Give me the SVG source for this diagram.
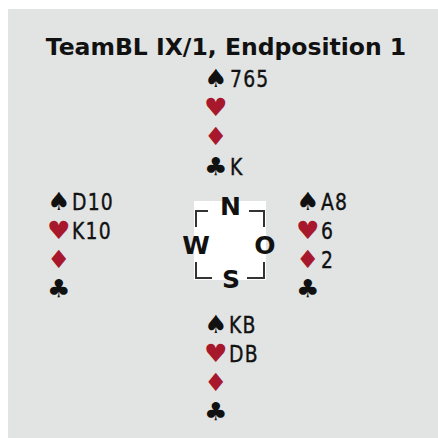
<svg xmlns="http://www.w3.org/2000/svg" width="438" height="438" viewBox="0 0 438 438">
  <style>
    .title { font-family: "DejaVu Sans", "Liberation Sans", sans-serif; font-weight: bold; font-size: 23.5px; fill: #111; }
    .card { font-family: "DejaVu Sans", sans-serif; font-size: 23.5px; fill: #111; stroke: #111; stroke-width: 0.4; letter-spacing: 1.5px; }
    .suit { font-family: "DejaVu Sans", sans-serif; font-size: 25px; }
    .blk { fill: #111; }
    .red { fill: #a8182c; }
    .dir { font-family: "DejaVu Sans", "Liberation Sans", sans-serif; font-weight: bold; font-size: 25px; fill: #111; text-anchor: middle; }
    .bracket { fill: none; stroke: #333; stroke-width: 2; }
  </style>

  <!-- canvas -->
  <rect x="0" y="0" width="438" height="438" fill="#ffffff"/>
  <rect x="8" y="9" width="430" height="429" fill="#e1e4e3"/>

  <text class="title" x="226" y="55" text-anchor="middle">TeamBL IX/1, Endposition 1</text>

  <!-- North hand -->
  <g id="north">
    <text class="suit blk" transform="translate(204,87) scale(1.05,1)">♠</text><text class="card" transform="translate(230,87) scale(0.8,1)">765</text>
    <text class="suit red" transform="translate(204,116) scale(1.05,1)">♥</text>
    <text class="suit red" transform="translate(204,145) scale(1.05,1)">♦</text>
    <text class="suit blk" transform="translate(204,175) scale(1.05,1)">♣</text><text class="card" transform="translate(230,175) scale(0.8,1)">K</text>
  </g>

  <!-- West hand -->
  <g id="west">
    <text class="suit blk" transform="translate(47,210) scale(1.05,1)">♠</text><text class="card" transform="translate(72,210) scale(0.8,1)">D10</text>
    <text class="suit red" transform="translate(47,239) scale(1.05,1)">♥</text><text class="card" transform="translate(72,239) scale(0.8,1)">K10</text>
    <text class="suit red" transform="translate(47,268) scale(1.05,1)">♦</text>
    <text class="suit blk" transform="translate(47,297) scale(1.05,1)">♣</text>
  </g>

  <!-- East hand -->
  <g id="east">
    <text class="suit blk" transform="translate(296,210) scale(1.05,1)">♠</text><text class="card" transform="translate(321,210) scale(0.8,1)">A8</text>
    <text class="suit red" transform="translate(296,239) scale(1.05,1)">♥</text><text class="card" transform="translate(321,239) scale(0.8,1)">6</text>
    <text class="suit red" transform="translate(296,268) scale(1.05,1)">♦</text><text class="card" transform="translate(321,268) scale(0.8,1)">2</text>
    <text class="suit blk" transform="translate(296,297) scale(1.05,1)">♣</text>
  </g>

  <!-- South hand -->
  <g id="south">
    <text class="suit blk" transform="translate(204,333) scale(1.05,1)">♠</text><text class="card" transform="translate(229,333) scale(0.8,1)">KB</text>
    <text class="suit red" transform="translate(204,362) scale(1.05,1)">♥</text><text class="card" transform="translate(229,362) scale(0.8,1)">DB</text>
    <text class="suit red" transform="translate(204,391) scale(1.05,1)">♦</text>
    <text class="suit blk" transform="translate(204,420) scale(1.05,1)">♣</text>
  </g>

  <!-- compass table -->
  <g id="table">
    <rect x="194" y="201" width="72" height="79" fill="#ffffff"/>
    <path class="bracket" d="M196,227 V211 H208"/>
    <path class="bracket" d="M249,211 H264 V227"/>
    <path class="bracket" d="M196,262 V278 H212"/>
    <path class="bracket" d="M247,278 H264 V262"/>
    <text class="dir" x="230.5" y="215">N</text>
    <text class="dir" x="196" y="254">W</text>
    <text class="dir" x="265" y="254">O</text>
    <text class="dir" x="231" y="288">S</text>
  </g>
</svg>
